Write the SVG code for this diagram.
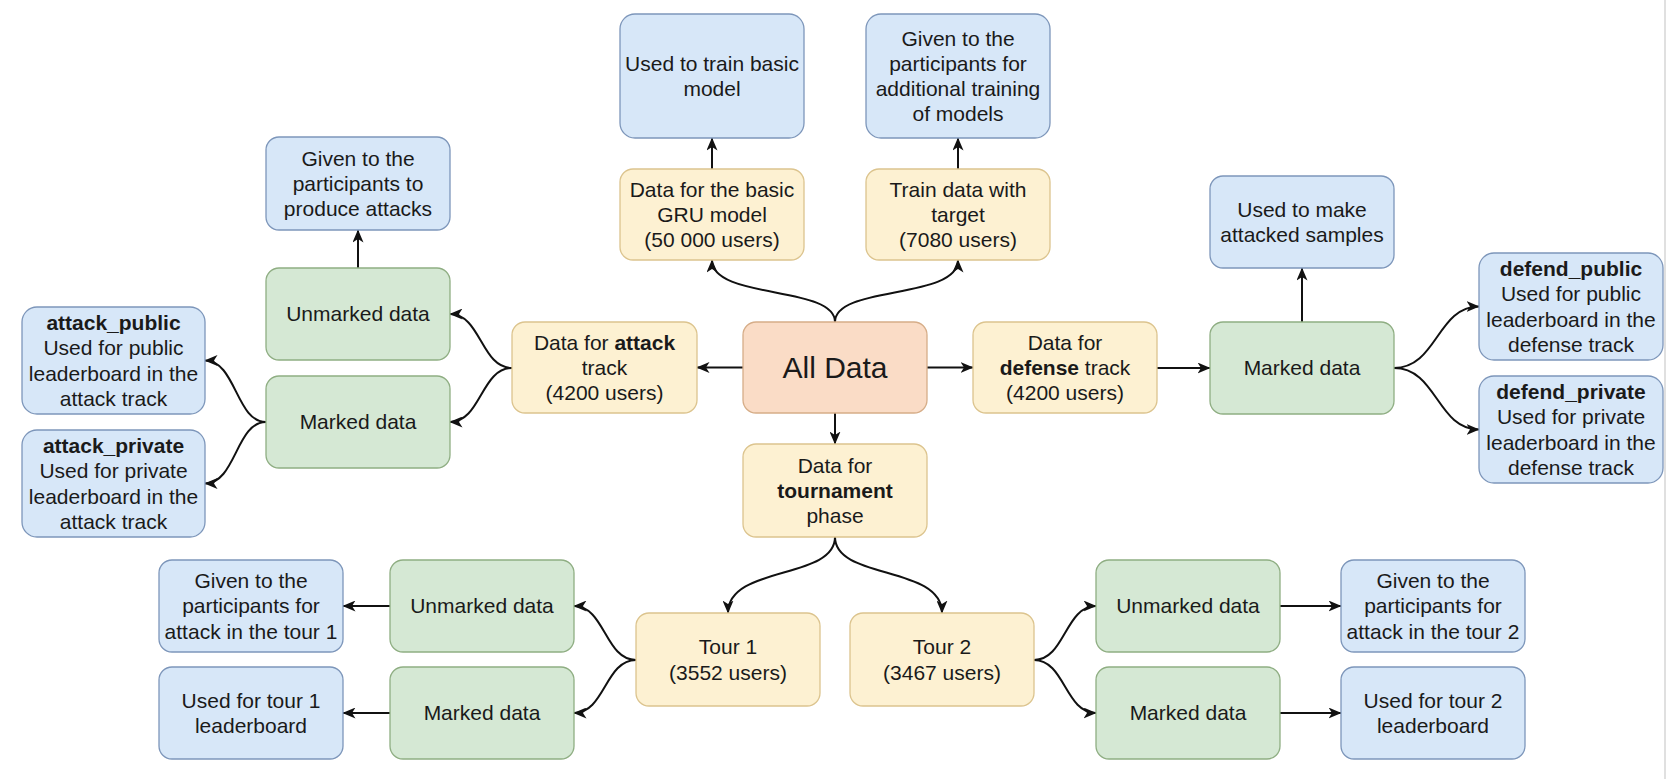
<svg xmlns="http://www.w3.org/2000/svg" width="1666" height="779" viewBox="0 0 1666 779">
<defs>
<marker id="arr" viewBox="0 0 13 11" markerWidth="13" markerHeight="11" refX="12.5" refY="5.5" orient="auto" markerUnits="userSpaceOnUse">
<path d="M0,0 L13,5.5 L0,11 L3.5,5.5 z" fill="#111"/>
</marker>
<style>
.blue{fill:#d7e7f8;stroke:#7d96ba;stroke-width:1.3}
.yel{fill:#fdf1d2;stroke:#dcc48e;stroke-width:1.3}
.grn{fill:#d5e8d4;stroke:#8fae83;stroke-width:1.3}
.org{fill:#fadcc6;stroke:#d6ad88;stroke-width:1.3}
text{font-family:"Liberation Sans",Arial,sans-serif;font-size:21px;fill:#1a1a1a;text-anchor:middle}
.big{font-size:30px}
.b{font-weight:bold}
.edge{fill:none;stroke:#111;stroke-width:2;marker-end:url(#arr)}
</style>
</defs>
<rect x="0" y="0" width="1666" height="779" fill="#ffffff"/>
<line x1="1665" y1="0" x2="1665" y2="779" stroke="#d6d6d6" stroke-width="1.5"/>

<g id="connectors">
<path class="edge" d="M712,169 L712,138"/>
<path class="edge" d="M958,169 L958,138"/>
<path class="edge" d="M835,322 C835,285 712,300 712,260"/>
<path class="edge" d="M835,322 C835,285 958,300 958,260"/>
<path class="edge" d="M743,367.5 L697,367.5"/>
<path class="edge" d="M927,367.5 L973,367.5"/>
<path class="edge" d="M835,413 L835,444"/>
<path class="edge" d="M512,368 C481,368 481,314 450,314"/>
<path class="edge" d="M512,368 C481,368 481,422 450,422"/>
<path class="edge" d="M358,268 L358,230"/>
<path class="edge" d="M266,422 C236,422 236,360.5 205,360.5"/>
<path class="edge" d="M266,422 C236,422 236,483.5 205,483.5"/>
<path class="edge" d="M1157,368 L1210,368"/>
<path class="edge" d="M1302,322 L1302,268"/>
<path class="edge" d="M1394,368 C1437,368 1437,306.5 1479,306.5"/>
<path class="edge" d="M1394,368 C1437,368 1437,429.5 1479,429.5"/>
<path class="edge" d="M835,537 C835,580 728,565 728,613"/>
<path class="edge" d="M835,537 C835,580 942,565 942,613"/>
<path class="edge" d="M636,660 C605,660 605,606 574,606"/>
<path class="edge" d="M636,660 C605,660 605,713 574,713"/>
<path class="edge" d="M390,606 L343,606"/>
<path class="edge" d="M390,713 L343,713"/>
<path class="edge" d="M1034,660 C1065,660 1065,606 1096,606"/>
<path class="edge" d="M1034,660 C1065,660 1065,713 1096,713"/>
<path class="edge" d="M1280,606 L1341,606"/>
<path class="edge" d="M1280,713 L1341,713"/>
</g>

<g id="basic_train"><rect class="blue" x="620" y="14" width="184" height="124" rx="15"/>
<text x="712" y="70.8">Used to train basic</text><text x="712" y="96">model</text></g>

<g id="additional"><rect class="blue" x="866" y="14" width="184" height="124" rx="15"/>
<text x="958" y="45.6">Given to the</text><text x="958" y="70.8">participants for</text><text x="958" y="96">additional training</text><text x="958" y="121.2">of models</text></g>

<g id="gru"><rect class="yel" x="620" y="169" width="184" height="91" rx="13"/>
<text x="712" y="196.7">Data for the basic</text><text x="712" y="221.9">GRU model</text><text x="712" y="247.1">(50 000 users)</text></g>

<g id="train_target"><rect class="yel" x="866" y="169" width="184" height="91" rx="13"/>
<text x="958" y="196.7">Train data with</text><text x="958" y="221.9">target</text><text x="958" y="247.1">(7080 users)</text></g>

<g id="produce_attacks"><rect class="blue" x="266" y="137" width="184" height="93" rx="13"/>
<text x="358" y="165.7">Given to the</text><text x="358" y="190.9">participants to</text><text x="358" y="216.1">produce attacks</text></g>

<g id="unmarked_attack"><rect class="grn" x="266" y="268" width="184" height="92" rx="13"/>
<text x="358" y="321.4">Unmarked data</text></g>

<g id="marked_attack"><rect class="grn" x="266" y="376" width="184" height="92" rx="13"/>
<text x="358" y="429.4">Marked data</text></g>

<g id="attack_public"><rect class="blue" x="22" y="307" width="183" height="107" rx="15"/>
<text x="113.5" y="330.1" class="b">attack_public</text><text x="113.5" y="355.3">Used for public</text><text x="113.5" y="380.5">leaderboard in the</text><text x="113.5" y="405.7">attack track</text></g>

<g id="attack_private"><rect class="blue" x="22" y="430" width="183" height="107" rx="15"/>
<text x="113.5" y="453.1" class="b">attack_private</text><text x="113.5" y="478.3">Used for private</text><text x="113.5" y="503.5">leaderboard in the</text><text x="113.5" y="528.7">attack track</text></g>

<g id="data_attack"><rect class="yel" x="512" y="322" width="185" height="91" rx="13"/>
<text x="604.5" y="349.7">Data for <tspan class="b">attack</tspan></text><text x="604.5" y="374.9">track</text><text x="604.5" y="400.1">(4200 users)</text></g>

<g id="all_data"><rect class="org" x="743" y="322" width="184" height="91" rx="13"/>
<text x="835" y="378" class="big">All Data</text></g>

<g id="data_defense"><rect class="yel" x="973" y="322" width="184" height="91" rx="13"/>
<text x="1065" y="349.7">Data for</text><text x="1065" y="374.9"><tspan class="b">defense</tspan> track</text><text x="1065" y="400.1">(4200 users)</text></g>

<g id="make_attacked"><rect class="blue" x="1210" y="176" width="184" height="92" rx="13"/>
<text x="1302" y="216.8">Used to make</text><text x="1302" y="242">attacked samples</text></g>

<g id="marked_defense"><rect class="grn" x="1210" y="322" width="184" height="92" rx="13"/>
<text x="1302" y="375.4">Marked data</text></g>

<g id="defend_public"><rect class="blue" x="1479" y="253" width="184" height="107" rx="15"/>
<text x="1571" y="276.1" class="b">defend_public</text><text x="1571" y="301.3">Used for public</text><text x="1571" y="326.5">leaderboard in the</text><text x="1571" y="351.7">defense track</text></g>

<g id="defend_private"><rect class="blue" x="1479" y="376" width="184" height="107" rx="15"/>
<text x="1571" y="399.1" class="b">defend_private</text><text x="1571" y="424.3">Used for private</text><text x="1571" y="449.5">leaderboard in the</text><text x="1571" y="474.7">defense track</text></g>

<g id="tournament"><rect class="yel" x="743" y="444" width="184" height="93" rx="13"/>
<text x="835" y="472.7">Data for</text><text x="835" y="497.9" class="b">tournament</text><text x="835" y="523.1">phase</text></g>

<g id="tour1"><rect class="yel" x="636" y="613" width="184" height="93" rx="13"/>
<text x="728" y="654.3">Tour 1</text><text x="728" y="679.5">(3552 users)</text></g>

<g id="tour2"><rect class="yel" x="850" y="613" width="184" height="93" rx="13"/>
<text x="942" y="654.3">Tour 2</text><text x="942" y="679.5">(3467 users)</text></g>

<g id="unmarked_t1"><rect class="grn" x="390" y="560" width="184" height="92" rx="13"/>
<text x="482" y="613.4">Unmarked data</text></g>

<g id="marked_t1"><rect class="grn" x="390" y="667" width="184" height="92" rx="13"/>
<text x="482" y="720.4">Marked data</text></g>

<g id="given_t1"><rect class="blue" x="159" y="560" width="184" height="92" rx="13"/>
<text x="251" y="588.2">Given to the</text><text x="251" y="613.4">participants for</text><text x="251" y="638.6">attack in the tour 1</text></g>

<g id="used_t1"><rect class="blue" x="159" y="667" width="184" height="92" rx="13"/>
<text x="251" y="707.8">Used for tour 1</text><text x="251" y="733">leaderboard</text></g>

<g id="unmarked_t2"><rect class="grn" x="1096" y="560" width="184" height="92" rx="13"/>
<text x="1188" y="613.4">Unmarked data</text></g>

<g id="marked_t2"><rect class="grn" x="1096" y="667" width="184" height="92" rx="13"/>
<text x="1188" y="720.4">Marked data</text></g>

<g id="given_t2"><rect class="blue" x="1341" y="560" width="184" height="92" rx="13"/>
<text x="1433" y="588.2">Given to the</text><text x="1433" y="613.4">participants for</text><text x="1433" y="638.6">attack in the tour 2</text></g>

<g id="used_t2"><rect class="blue" x="1341" y="667" width="184" height="92" rx="13"/>
<text x="1433" y="707.8">Used for tour 2</text><text x="1433" y="733">leaderboard</text></g>
</svg>
